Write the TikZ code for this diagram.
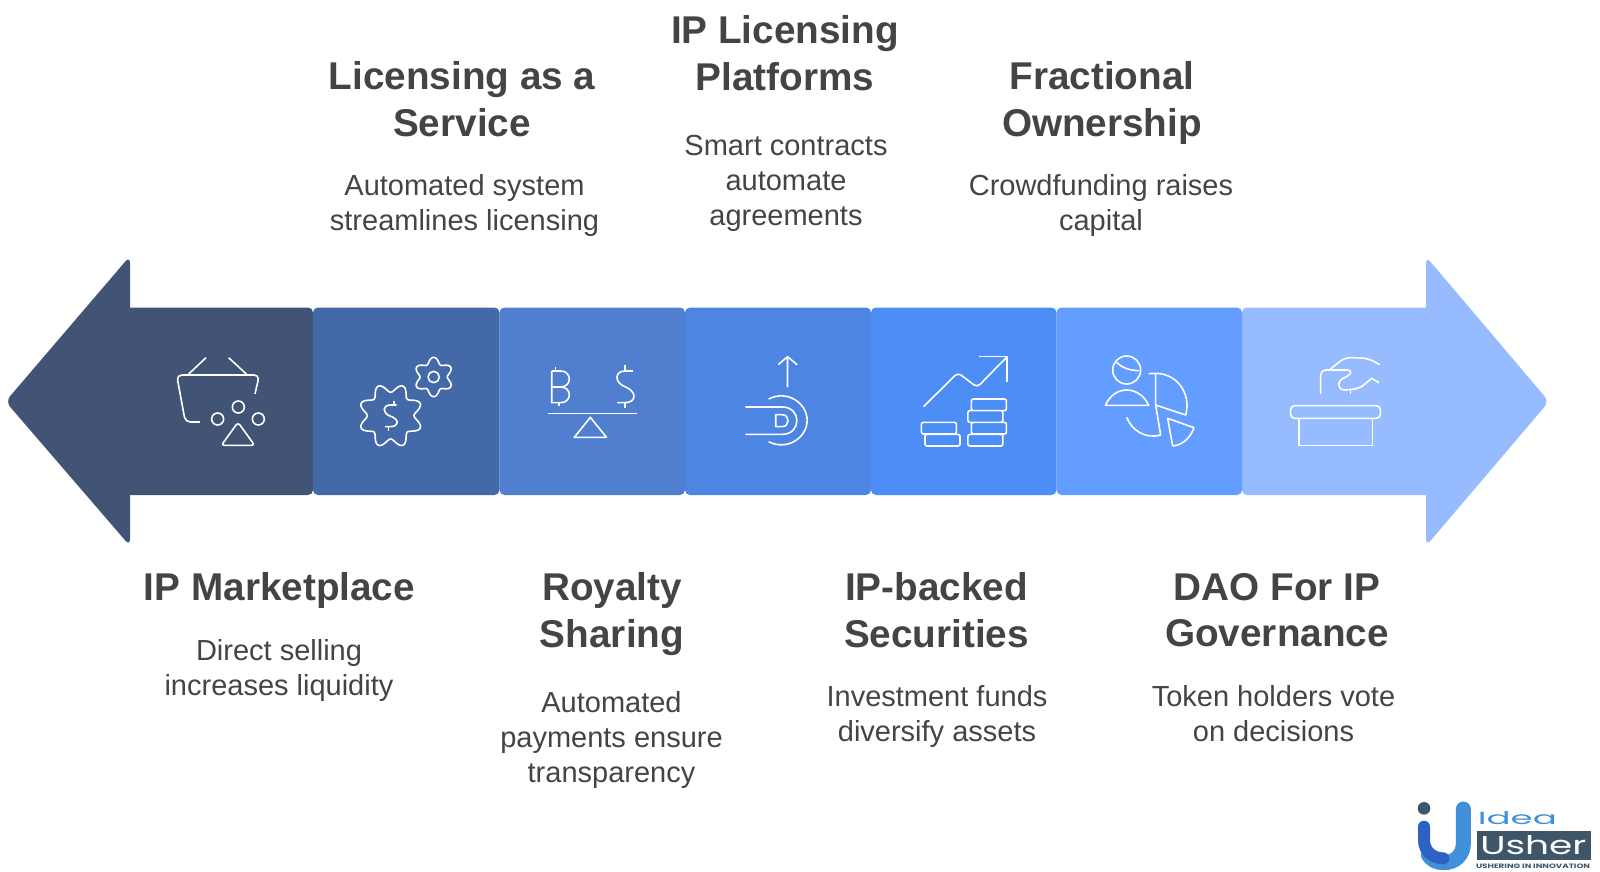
\documentclass[tikz,border=0pt]{standalone}
\usepackage{fontspec}
\usepackage{graphicx}
\setmainfont{Liberation Sans}
\newfontfamily\logofont{Poppins}
\definecolor{segA}{HTML}{415475}
\definecolor{segB}{HTML}{4369A8}
\definecolor{segC}{HTML}{4F7FCE}
\definecolor{segD}{HTML}{4D85E3}
\definecolor{segE}{HTML}{4D8DF6}
\definecolor{segF}{HTML}{629DFF}
\definecolor{segG}{HTML}{96BCFF}
\definecolor{inkc}{HTML}{444444}
\definecolor{logodark}{HTML}{3F5568}
\definecolor{logoblue}{HTML}{2D62C4}
\definecolor{logolight}{HTML}{4090DC}
\tikzset{
  ttl/.style={align=center,text=inkc,font=\fontsize{38.7}{46.5}\selectfont\bfseries,inner sep=0pt},
  bdy/.style={align=center,text=inkc,font=\fontsize{29}{35}\selectfont,inner sep=0pt},
  px/.style={x=0.33333pt,y=-0.33333pt},
  pxm/.style={x=0.35714pt,y=-0.33333pt},
  icon/.style={draw=white,line width=1.6pt,line join=round,fill=none},
  seg/.style={rounded corners=5pt},
  headtip/.style={rounded corners=7pt}
}
\begin{document}
\begin{tikzpicture}[x=1pt,y=-1pt]
\useasboundingbox (0,0) rectangle (1600,871);
% arrow band
\fill[segA,headtip] (130,256) -- (5.5,401.5) -- (130,546) -- cycle;
\fill[segA,seg] (120,307.5) rectangle (313,495);
\fill[segG,headtip] (1426,256.5) -- (1549,401.5) -- (1426,546) -- cycle;
\fill[segG,seg] (1242,307.5) rectangle (1436,495);
\fill[segB,seg] (313,307.5) rectangle (499.5,495);
\fill[segC,seg] (499.5,307.5) rectangle (685,495);
\fill[segD,seg] (685,307.5) rectangle (871,495);
\fill[segE,seg] (871,307.5) rectangle (1056.5,495);
\fill[segF,seg] (1056.5,307.5) rectangle (1242,495);
% icons left
\begin{scope}[shift={(0,250)},px]
 \draw[icon,rounded corners=5pt] (600,516) -- (556,516) -- (530,375) -- (778,375) -- (765,432);
 \draw[icon] (565,373) -- (618,323) (740,373) -- (686,323);
 \draw[icon] (715,471) circle[radius=18] (653,507) circle[radius=18] (775,507) circle[radius=18];
 \draw[icon,rounded corners=3pt] (714,517) -- (764,586) -- (664,586) -- cycle;
 \draw[icon] plot[domain=0:360,samples=161,smooth] ({1172+(83-13*cos(8*\x))*cos(\x)},{497+(83-13*cos(8*\x))*sin(\x)});
 \draw[icon] (1190,465) -- (1172,465) .. controls (1145,465) and (1148,490) .. (1170,498) .. controls (1200,508) and (1198,530) .. (1170,530) -- (1155,530);
 \draw[icon] (1182,453) -- (1182,465) (1165,530) -- (1165,542);
 \draw[icon] plot[domain=0:360,samples=121,smooth] ({1301+(50-9*cos(6*\x))*cos(\x)},{381+(50-9*cos(6*\x))*sin(\x)});
 \draw[icon] (1301,381) circle[radius=17];
\end{scope}
% icons middle
\begin{scope}[shift={(500,290)},pxm]
 \draw[icon] (133,371) -- (384,371);
 \draw[icon] (253,382) -- (298,442) -- (208,442) -- cycle;
 \draw[icon] (145,243) -- (145,338) -- (170,338) .. controls (202,338) and (202,291) .. (170,291) -- (145,291) (170,291) .. controls (202,291) and (202,243) .. (170,243) -- (145,243);
 \draw[icon] (155,232) -- (155,243) (165,338) -- (165,348);
 \draw[icon] (372,243) -- (350,243) .. controls (320,243) and (320,278) .. (350,290) .. controls (385,305) and (382,338) .. (350,338) -- (328,338);
 \draw[icon] (350,226) -- (350,243) (350,338) -- (350,354);
 \draw[icon] (805,292) -- (805,200) (779,224) -- (805,200) -- (832,224);
 \draw[icon] (687,351) -- (790,351) .. controls (845,351) and (845,433) .. (790,433) -- (687,433);
 \draw[icon] (752,327) .. controls (805,298) and (860,340) .. (860,391) .. controls (860,442) and (805,484) .. (752,455);
 \draw[icon] (772,374) -- (772,410) -- (790,410) .. controls (812,410) and (812,374) .. (790,374) -- cycle;
 \draw[icon,rounded corners=4pt] (1186,350) -- (1282,248) -- (1336,292) -- (1420,200);
 \draw[icon] (1342,200) -- (1420,200) -- (1420,275);
 \draw[icon,rounded corners=2pt] (1180,397) rectangle (1278,432) (1190,433) rectangle (1288,468) (1320,327) rectangle (1418,362) (1310,362) rectangle (1408,397) (1320,397) rectangle (1418,432) (1310,433) rectangle (1408,468);
\end{scope}
% icons right
\begin{scope}[shift={(1040,250)},px]
 \draw[icon] (260,360) circle[radius=42];
 \draw[icon] (230,337) .. controls (245,353) and (270,362) .. (298,362);
 \draw[icon] (196,466) -- (326,466) .. controls (312,435) and (285,420) .. (260,420) .. controls (235,420) and (210,435) .. (196,466) -- cycle;
 \draw[icon] (326,371) -- (347,370) -- (347,465) -- (437,495) .. controls (455,430) and (410,370) .. (347,370);
 \draw[icon] (347,465) -- (362,555) .. controls (315,568) and (275,540) .. (260,502);
 \draw[icon] (383,505) -- (462,533) .. controls (450,565) and (428,585) .. (398,588) -- cycle;
 \draw[icon,rounded corners=5pt] (842,432) -- (842,360) -- (925,360);
 \draw[icon] (925,360) .. controls (940,365) and (930,375) .. (915,382) .. controls (890,392) and (890,420) .. (915,420) -- (945,417) -- (965,410) -- (995,385) -- (1017,398);
 \draw[icon,rounded corners=6pt] (868,360) -- (915,322) -- (985,325) -- (1019,344);
 \draw[icon] (931,420) -- (931,432);
 \draw[icon,rounded corners=4pt] (752,467) rectangle (1021,505);
 \draw[icon] (777,505) -- (777,587) -- (997,587) -- (997,505);
\end{scope}
% text top
\node[ttl] (t2) at (462,99) {Licensing as a\\Service};
\node[bdy] (b2) at (464.5,205.3) {Automated system\\streamlines licensing};
\node[ttl] (t4) at (785,53) {IP Licensing\\Platforms};
\node[bdy] (b4) at (786,183) {Smart contracts\\automate\\agreements};
\node[ttl] (t6) at (1102,103) {Fractional\\Ownership};
\node[bdy] (b6) at (1101,205.3) {Crowdfunding raises\\capital};
% text bottom
\node[ttl] (t1) at (279.5,590) {IP Marketplace};
\node[bdy] (b1) at (279,670) {Direct selling\\increases liquidity};
\node[ttl] (t3) at (612,614) {Royalty\\Sharing};
\node[bdy] (b3) at (611.5,740) {Automated\\payments ensure\\transparency};
\node[ttl] (t5) at (936.5,610) {IP-backed\\Securities};
\node[bdy] (b5) at (937,716.5) {Investment funds\\diversify assets};
\node[ttl] (t7) at (1277,610) {DAO For IP\\Governance};
\node[bdy] (b7) at (1273.5,714) {Token holders vote\\on decisions};
% logo
\begin{scope}[shift={(1400,790)},px]
 \fill[logodark] (72,55) circle[radius=19];
 \draw[logolight,line width=15pt,line cap=round] (190,57) -- (190,160) .. controls (190,195) and (165,218) .. (131,218) .. controls (110,218) and (95,210) .. (85,195);
 \draw[logoblue,line width=12pt,line cap=round] (72,110) -- (72,150) .. controls (72,185) and (100,205) .. (130,205);
 \fill[logodark] (230,122) rectangle (572,210);
 \node[text=logolight,inner sep=0pt] (logoa) at (352,85) {\resizebox{79pt}{13pt}{\logofont Idea}};
 \node[text=white,inner sep=0pt] (logob) at (400,166) {\resizebox{106pt}{19pt}{\logofont Usher}};
 \node[text=logodark,inner sep=0pt] (logoc) at (399,229) {\resizebox{114pt}{4.5pt}{\logofont\bfseries USHERING IN INNOVATION}};
\end{scope}
\end{tikzpicture}
\end{document}
